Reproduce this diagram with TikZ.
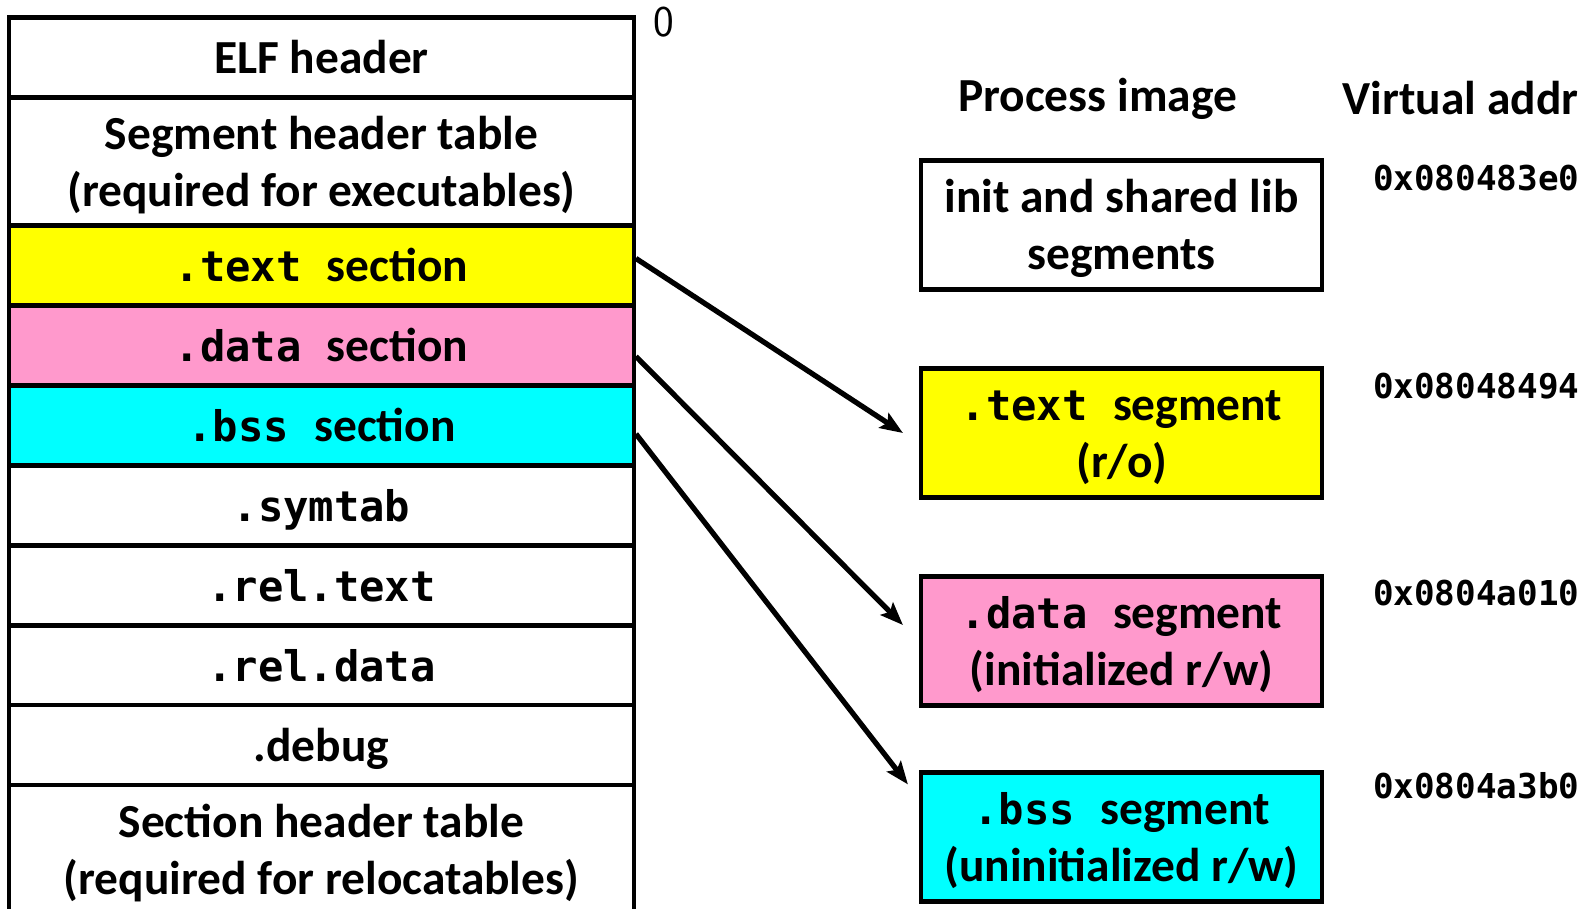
\documentclass[tikz,border=0pt]{standalone}
\usepackage{fontspec}
\setmainfont{Carlito}
\newfontfamily\codefont{DejaVu Sans Mono}
\usepackage{tikz}
\usetikzlibrary{calc,positioning}
\usetikzlibrary{arrows.meta}
\tikzset{>={Stealth[length=13pt,width=10pt,inset=2.5pt]}}

\definecolor{textyellow}{RGB}{255,255,0}
\definecolor{datapink}{RGB}{255,153,204}
\definecolor{bsscyan}{RGB}{0,255,255}

\newcommand{\code}[1]{{\codefont\fontsize{24}{28.8}\selectfont #1}}
\newcommand{\linestrut}{\rule[-6.8pt]{0pt}{32.3pt}}

\begin{document}
\begin{tikzpicture}[x=0.02cm, y=-0.02cm]
          \tikzstyle{sec} = [draw, line width=2.4pt, outer sep=0pt, inner sep=0pt, minimum width=12.5cm, minimum height=1.6cm, align=center, font=\fontsize{27}{32.4}\selectfont\bfseries, execute at begin node=\linestrut]
          \tikzstyle{bigsec} = [sec, minimum height=2.56cm]
          \tikzstyle{seg} = [draw, line width=2.4pt, inner sep=0pt, minimum width=8.02cm, minimum height=2.58cm, align=center, font=\fontsize{27}{32.4}\selectfont\bfseries, execute at begin node=\linestrut]
          \tikzstyle{head} = [font=\fontsize{27}{32.4}\selectfont\bfseries]
          \tikzstyle{addr} = [anchor=west, inner sep=0pt, font=\codefont\fontsize{19.5}{23}\selectfont\bfseries]
          \tikzstyle{maparrow} = [->, line width=3pt]

          \useasboundingbox (0,0) rectangle (1592,909);
          \clip (0,0) rectangle (1592,909);

          % ELF object file
          \node[sec] (elf) at (321.5, 57.5) {ELF header};
          \node[bigsec, below=0pt of elf] (seghdr) {\linestrut Segment header table\\(required for executables)};
          \node[sec, fill=textyellow, below=0pt of seghdr] (text) {\code{.text~}section};
          \node[sec, fill=datapink, below=0pt of text] (data) {\code{.data~}section};
          \node[sec, fill=bsscyan, below=0pt of data] (bss) {\code{.bss~}section};
          \node[sec, below=0pt of bss] (symtab) {\code{.symtab}};
          \node[sec, below=0pt of symtab] (reltext) {\code{.rel.text}};
          \node[sec, below=0pt of reltext] (reldata) {\code{.rel.data}};
          \node[sec, below=0pt of reldata] (debug) {.debug};
          \node[bigsec, below=0pt of debug] (sechdr) {\linestrut Section header table\\(required for relocatables)};

          \node (zero) at (664, 22.5) {\sffamily\fontsize{25}{30}\selectfont 0};

          % process image
          \node[head] (procimg) at (1097.5, 99) {Process image};
          \node[head] (vaddr) at (1460.5, 98.5) {Virtual addr};

          \node[seg] (initseg) at (1121.5, 225) {\linestrut init and shared lib\\segments};
          \node[seg, fill=textyellow] (tseg) at (1121.5, 433) {\linestrut\code{.text~}segment\\(r/o)};
          \node[seg, fill=datapink] (dseg) at (1121.5, 641) {\linestrut\code{.data~}segment\\(initialized r/w)};
          \node[seg, fill=bsscyan] (bseg) at (1121.5, 837) {\linestrut\code{.bss~}segment\\(uninitialized r/w)};

          \node[addr] (a0) at (1372.7, 177.7) {0x080483e0};
          \node[addr] (a1) at (1372.7, 385.8) {0x08048494};
          \node[addr] (a2) at (1372.7, 593) {0x0804a010};
          \node[addr] (a3) at (1372.7, 785.8) {0x0804a3b0};

          \draw[maparrow] ($(text.east)+(2,-7)$) -- ($(tseg.west)+(-16,0)$);
          \draw[maparrow] ($(data.east)+(2,11)$) -- ($(dseg.west)+(-16,-16)$);
          \draw[maparrow] ($(bss.east)+(2,8.5)$) -- ($(bseg.north west)+(-11,14)$);
        \end{tikzpicture}
\end{document}
